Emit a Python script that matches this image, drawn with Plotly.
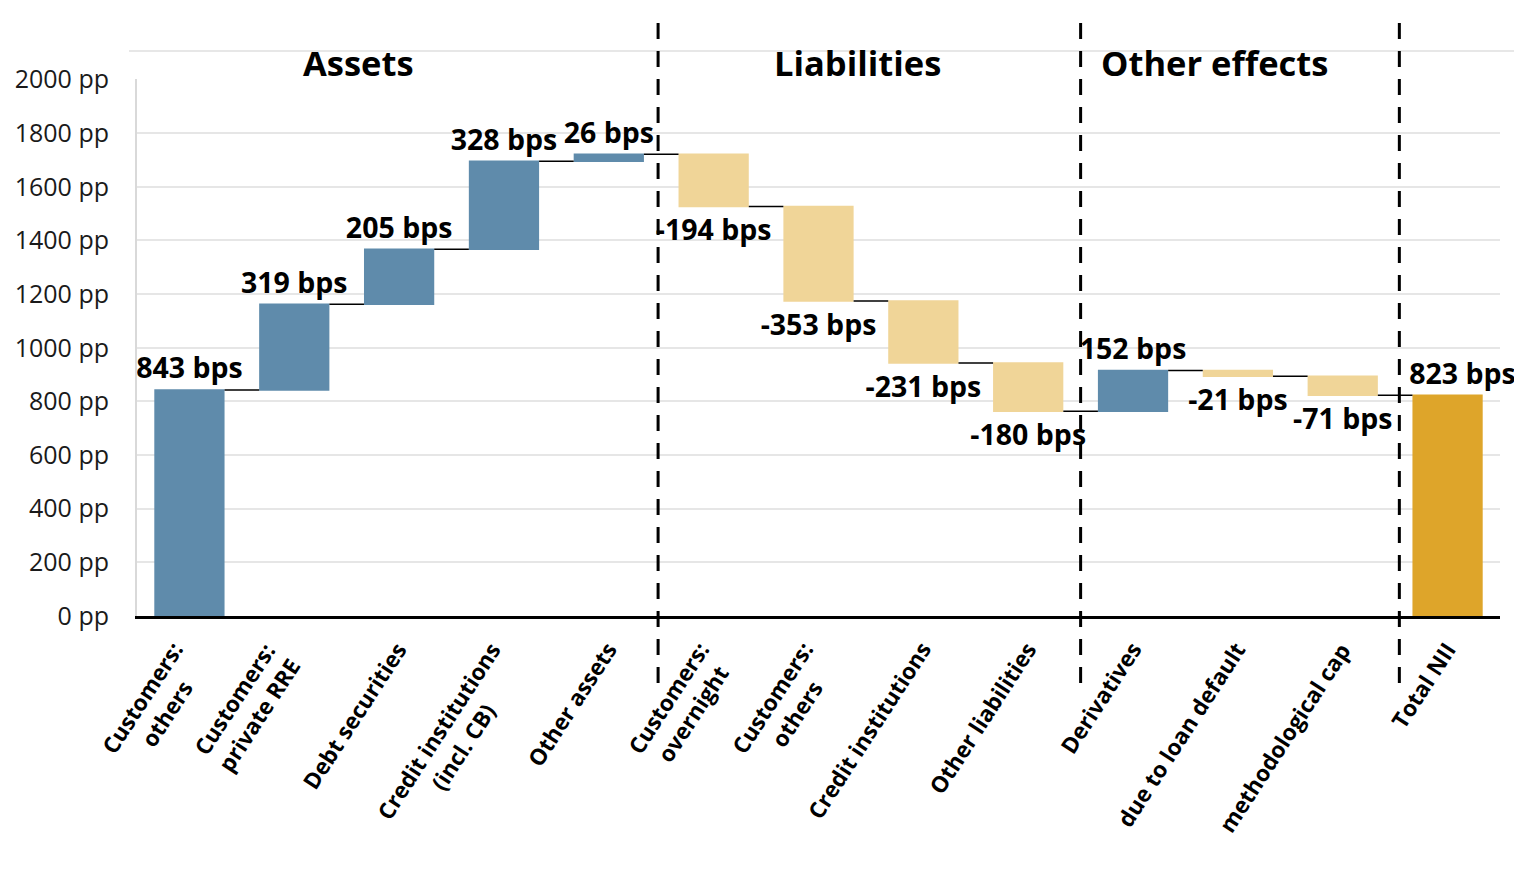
import plotly.graph_objects as go

categories = [
    "Customers:<br>others", "Customers:<br>private RRE", "Debt securities",
    "Credit institutions<br>(incl. CB)", "Other assets", "Customers:<br>overnight",
    "Customers:<br>others", "Credit institutions", "Other liabilities",
    "Derivatives", "due to loan default", "methodological cap", "Total NII",
]
values = [843, 319, 205, 328, 26, -194, -353, -231, -180, 152, -21, -71, 823]
measures = ["relative"] * 12 + ["total"]
labels = [f"{v} bps" for v in values]
sections = ["Assets", "Liabilities", "Other effects"]
y_ticks = [0, 200, 400, 600, 800, 1000, 1200, 1400, 1600, 1800, 2000]
y_tick_text = [f"{v} pp" for v in y_ticks]

FONT = "Open Sans"
x_pos = list(range(len(categories)))
# the total's label sits a little to the right of its bar, as in the original
text_labels = labels[:-1] + ["&nbsp;" * 4 + labels[-1]]

fig = go.Figure(go.Waterfall(
    x=x_pos,
    y=values,
    measure=measures,
    text=text_labels,
    textposition="outside",
    textfont=dict(family=FONT, size=28.5, color="black", weight="bold"),
    constraintext="none",
    cliponaxis=False,
    increasing=dict(marker=dict(color="#5F8BAB")),
    decreasing=dict(marker=dict(color="#F0D598")),
    totals=dict(marker=dict(color="#DEA52A")),
    connector=dict(line=dict(color="black", width=1.5), mode="between"),
    showlegend=False,
))

# page body has an 8px margin: shift everything up/left by 8px
O = 8
W, H = 1522 - O, 873 - O
L, R, T, B = 137 - O, 22, 79 - O, 257
pw, ph = W - L - R, H - T - B


def px_x(px):
    return (px - O - L) / pw


def px_y(py):
    return (H - B - (py - O)) / ph


shapes = []
# outer frame (top + right)
shapes.append(dict(type="line", xref="paper", yref="paper",
                   x0=px_x(129), x1=px_x(1519), y0=px_y(51), y1=px_y(51),
                   line=dict(color="#cfcfcf", width=1)))
shapes.append(dict(type="line", xref="paper", yref="paper",
                   x0=px_x(1519), x1=px_x(1519), y0=px_y(51), y1=px_y(880),
                   line=dict(color="#cfcfcf", width=1)))
# section separators
for sx in [4.47, 8.5, 11.54]:
    shapes.append(dict(type="line", xref="x", yref="paper",
                       x0=sx, x1=sx, y0=px_y(683), y1=px_y(12),
                       line=dict(color="black", width=3, dash="16px,12px")))

annotations = []
for name, cx in zip(sections, [358, 857, 1214]):
    annotations.append(dict(text=f"<b>{name}</b>", xref="paper", yref="paper",
                            x=px_x(cx), y=px_y(62), xanchor="center", yanchor="middle",
                            showarrow=False,
                            font=dict(family=FONT, size=34.5, color="black")))

# category labels: rotated, centre-aligned lines, block's top-right at the tick
label_shift_px = [26, 14, 16, 29, 16, 28, 27, 16, 16, 16, 16, 16, 16]
for xv, cat, sh in zip(x_pos, categories, label_shift_px):
    annotations.append(dict(text=f"<b>{cat}</b>", xref="x", yref="paper",
                            x=xv, y=px_y(635), xanchor="right", yanchor="top",
                            xshift=sh, textangle=-57, align="center",
                            showarrow=False, borderpad=0,
                            font=dict(family=FONT, size=22.5, color="black")))

fig.update_layout(
    width=W, height=H,
    margin=dict(l=L, r=R, t=T, b=B, pad=0, autoexpand=False),
    paper_bgcolor="white", plot_bgcolor="white",
    waterfallgap=0.33,
    shapes=shapes,
    annotations=annotations,
    font=dict(family=FONT, color="#1a1a1a"),
)
fig.update_xaxes(
    range=[-0.5, 12.5], automargin=False,
    tickmode="array", tickvals=x_pos, showticklabels=False,
    showline=True, linecolor="black", linewidth=3,
    showgrid=False, ticks="",
)
fig.update_yaxes(
    range=[0, 2002], automargin=False,
    tickmode="array", tickvals=y_ticks, ticktext=y_tick_text,
    tickfont=dict(family=FONT, size=25, color="#1a1a1a"),
    showgrid=True, gridcolor="#e6e6e6", gridwidth=2,
    showline=True, linecolor="#d9d9d9", linewidth=2,
    zeroline=False, ticks="", ticklabelstandoff=21,
)

fig.write_html("out.html")
